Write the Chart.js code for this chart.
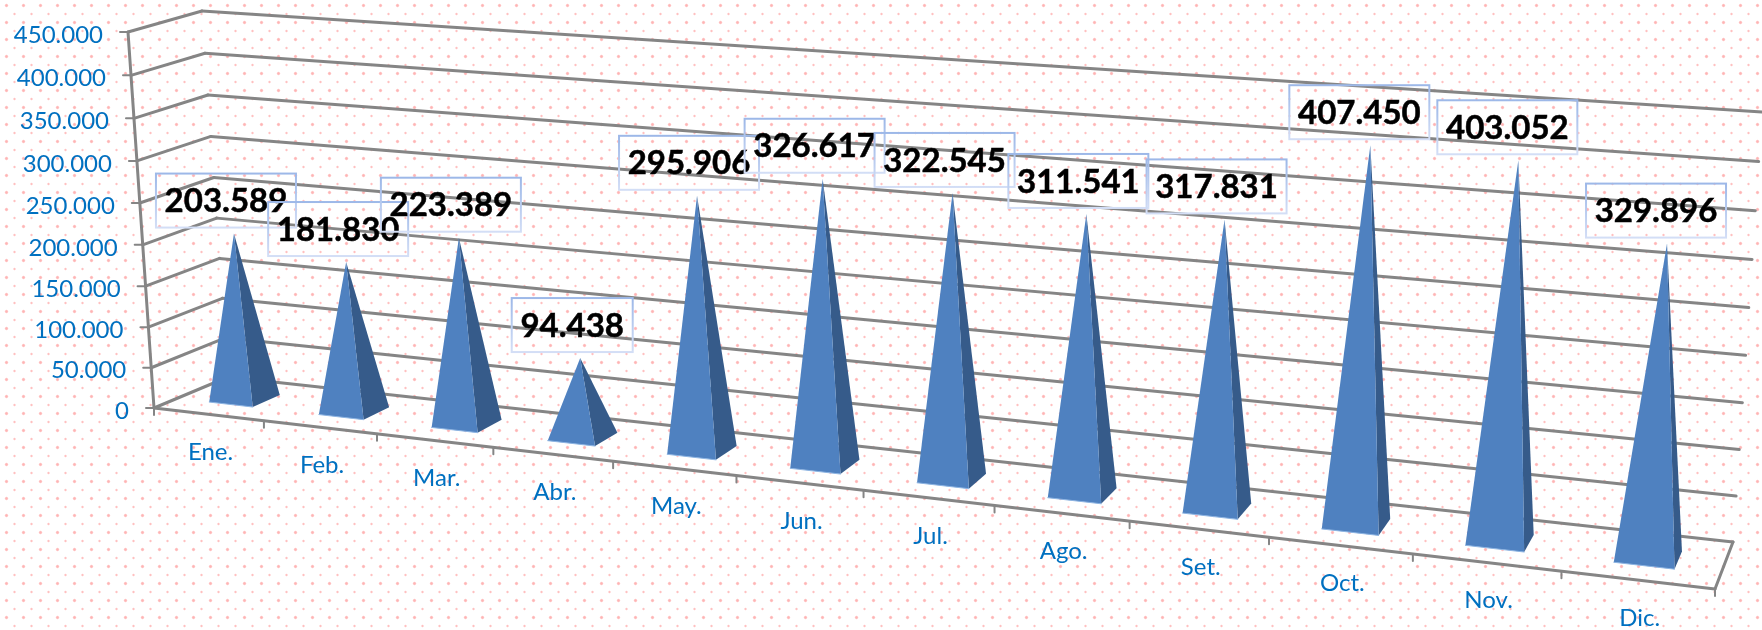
<!DOCTYPE html>
<html>
<head>
<meta charset="utf-8">
<title>Ventas por mes</title>
<script src="https://cdn.jsdelivr.net/npm/chart.js@4"></script>
<style>
    html, body { margin: 0; padding: 0; }
    body {
        width: 1762px;
        height: 630px;
        overflow: hidden;
        background-color: #fff;
        background-image:
            radial-gradient(circle at 6.5px 5.5px, #ffb3b3 0.8px, rgba(255,179,179,0) 2.2px),
            radial-gradient(circle at 14.5px 14px, #ffc0c0 0.5px, rgba(255,192,192,0) 1.7px);
        background-size: 17px 17px;
    }
    canvas { display: block; }
</style>
</head>
<body>
<canvas id="chart" width="1762" height="630"></canvas>
<script>
// months and values
const categories = ['Ene.', 'Feb.', 'Mar.', 'Abr.', 'May.', 'Jun.', 'Jul.', 'Ago.', 'Set.', 'Oct.', 'Nov.', 'Dic.'];
const values = [203589, 181830, 223389, 94438, 295906, 326617, 322545, 311541, 317831, 407450, 403052, 329896];
const valueLabels = ['203.589', '181.830', '223.389', '94.438', '295.906', '326.617', '322.545', '311.541', '317.831', '407.450', '403.052', '329.896'];
const tickLabels = ['0', '50.000', '100.000', '150.000', '200.000', '250.000', '300.000', '350.000', '400.000', '450.000'];

const axisColor = '#858585';
const textBlue = '#0070c0';
const frontFace = '#4f81c0';
const sideFace = '#365b8a';

// corners of the 3D box on the page: front/back, left/right, bottom/top
const box = {
    flb: [154, 408], flt: [128, 32],
    blb: [228, 377], blt: [202, 11],
    frb: [1715, 589], frt: [1744, 148],
    brb: [1733, 542], brt: [1762, 112]
};
const perspective = 1.2;
const heightPerspective = 1.043;
const baseFront = 0.31;
const baseBack = 0.69;

function mix(a, b, t) {
    return [a[0] + (b[0] - a[0]) * t, a[1] + (b[1] - a[1]) * t];
}

// u: across the x scale, v: up the y scale, d: depth (all 0..1)
function project(u, v, d) {
    const s = u / (u + perspective * (1 - u));
    const t = v / (v + heightPerspective * (1 - v));
    const bottom = mix(mix(box.flb, box.frb, s), mix(box.blb, box.brb, s), d);
    const top = mix(mix(box.flt, box.frt, s), mix(box.blt, box.brt, s), d);
    return mix(bottom, top, t);
}

function line(ctx, a, b) {
    ctx.beginPath();
    ctx.moveTo(a[0], a[1]);
    ctx.lineTo(b[0], b[1]);
    ctx.stroke();
}

function fillPoly(ctx, points, color) {
    ctx.fillStyle = color;
    ctx.beginPath();
    points.forEach((p, i) => i ? ctx.lineTo(p[0], p[1]) : ctx.moveTo(p[0], p[1]));
    ctx.closePath();
    ctx.fill();
}

// the flat chart area is used as the u/v space of the 3D box
const pyramidPlugin = {
    id: 'pyramids',
    afterDatasetsDraw(chart) {
        const ctx = chart.ctx;
        const area = chart.chartArea;
        const xScale = chart.scales.x;
        const yScale = chart.scales.y;
        const toU = px => (px - area.left) / area.width;
        const toV = py => (area.bottom - py) / area.height;

        ctx.save();
        ctx.lineCap = 'round';

        // walls
        ctx.strokeStyle = axisColor;
        yScale.ticks.forEach((tick, i) => {
            const v = toV(yScale.getPixelForTick(i));
            ctx.lineWidth = 3;
            line(ctx, project(0, v, 0), project(0, v, 1));
            line(ctx, project(0, v, 1), project(1, v, 1));
            const front = project(0, v, 0);
            ctx.lineWidth = 2;
            line(ctx, front, [front[0] - 8, front[1]]);
        });
        ctx.lineWidth = 3;
        line(ctx, project(0, 0, 0), project(0, 1, 0));

        // floor
        line(ctx, project(0, 0, 0), project(1, 0, 0));
        line(ctx, project(1, 0, 0), project(1, 0, 1));
        ctx.lineWidth = 2;
        for (let i = 0; i <= categories.length; i++) {
            const p = project(i / categories.length, 0, 0);
            line(ctx, p, [p[0], p[1] + 7]);
        }

        // axis text
        ctx.fillStyle = textBlue;
        ctx.font = '24px Lato';
        ctx.textAlign = 'right';
        ctx.textBaseline = 'middle';
        yScale.ticks.forEach((tick, i) => {
            const p = project(0, toV(yScale.getPixelForTick(i)), 0);
            ctx.fillText(tick.label, p[0] - 25, p[1] + 3);
        });
        ctx.textAlign = 'center';
        xScale.ticks.forEach((tick, i) => {
            const p = project(toU(xScale.getPixelForTick(i)), 0, 0);
            ctx.fillText(tick.label, p[0] + 2, p[1] + 38);
        });

        // pyramids
        const bars = chart.getDatasetMeta(0).data;
        const apexes = bars.map(bar => {
            const left = toU(bar.x - bar.width / 2);
            const right = toU(bar.x + bar.width / 2);
            const apex = project(toU(bar.x), toV(bar.y), (baseFront + baseBack) / 2);
            const fl = project(left, 0, baseFront);
            const fr = project(right, 0, baseFront);
            const br = project(right, 0, baseBack);
            fillPoly(ctx, [fr, br, apex], sideFace);
            fillPoly(ctx, [fl, fr, apex], frontFace);
            ctx.strokeStyle = '#8db4e2';
            ctx.lineWidth = 1;
            line(ctx, fl, fr);
            return apex;
        });

        // value boxes
        ctx.font = 'bold 33px Lato';
        ctx.fillStyle = '#000';
        apexes.forEach((apex, i) => {
            const label = valueLabels[i];
            const w = label.length === 7 ? 140 : 121;
            const h = 54;
            const cx = apex[0] + (i < 9 ? -8 : -11);
            const cy = apex[1] - 33;
            const edge = ctx.createLinearGradient(0, cy - h / 2, 0, cy + h / 2);
            edge.addColorStop(0, '#9db8e8');
            edge.addColorStop(1, '#d3def6');
            ctx.strokeStyle = edge;
            ctx.lineWidth = 2;
            ctx.strokeRect(cx - w / 2, cy - h / 2, w, h);
            // Lato bold is lighter than the original label weight
            ctx.strokeStyle = '#000';
            ctx.lineWidth = 0.5;
            ctx.strokeText(label, cx, cy + 1);
            ctx.fillText(label, cx, cy + 1);
        });
        ctx.restore();
    }
};

new Chart(document.getElementById('chart'), {
    type: 'bar',
    data: {
        labels: categories,
        datasets: [{
            data: values,
            backgroundColor: 'transparent',
            barPercentage: 0.4,
            categoryPercentage: 1
        }]
    },
    options: {
        responsive: false,
        animation: false,
        devicePixelRatio: 1,
        layout: { padding: 0 },
        plugins: { legend: { display: false }, tooltip: { enabled: false } },
        scales: {
            x: { display: false },
            y: {
                display: false,
                min: 0,
                max: 450000,
                ticks: { stepSize: 50000, callback: (value, i) => tickLabels[i] }
            }
        }
    },
    plugins: [pyramidPlugin]
});
</script>
</body>
</html>
